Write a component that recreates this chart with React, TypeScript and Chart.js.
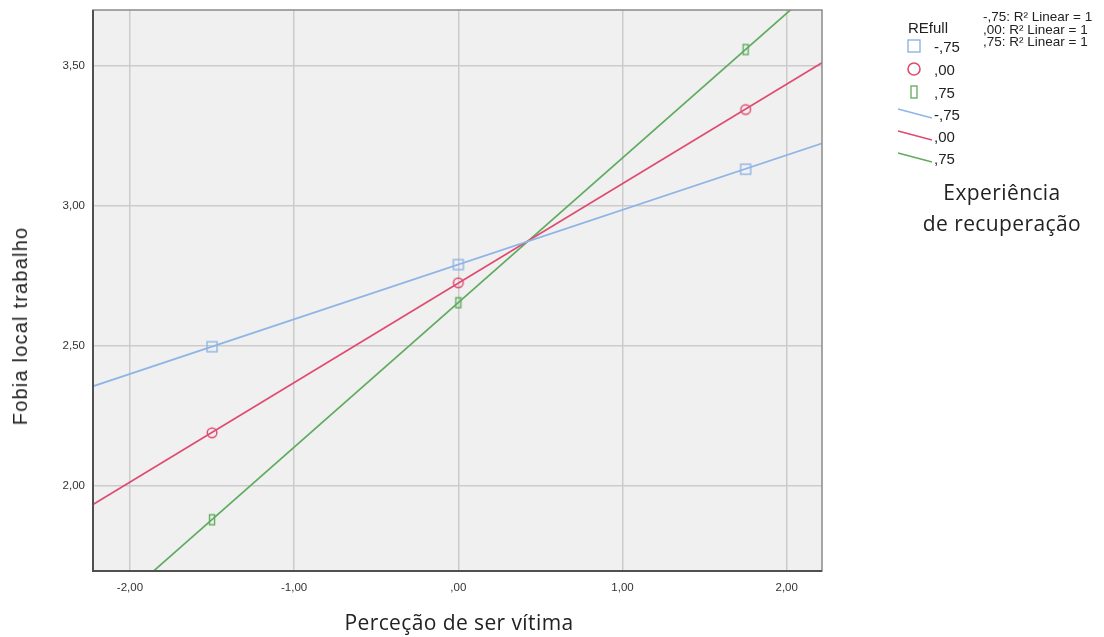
import React, { useEffect, useRef } from "react";
import { Chart, registerables } from "chart.js";

Chart.register(...registerables);

// ---- data ----
const groupLabels = ["-,75", ",00", ",75"];
const pointX = [-1.5, 0, 1.75];
const blueY = [2.497, 2.79, 3.13];
const redY = [2.19, 2.725, 3.343];
const greenY = [1.88, 2.654, 3.557];
// fit line endpoints
const lineX = [-2.23, 2.23];
const blueLine = [2.355, 3.225];
const redLine = [1.932, 3.515];
const greenLine = [1.504, 3.805];
const xTicks = [-2, -1, 0, 1, 2];
const yTicks = [2.0, 2.5, 3.0, 3.5];
const rLegend = ["-,75: R² Linear = 1", ",00: R² Linear = 1", ",75: R² Linear = 1"];

const BLUE = "#8fb4e6";
const RED = "#e04a70";
const GREEN = "#5fab5f";

function fmt(v: number): string {
  let s = Math.abs(v).toFixed(2).replace(".", ",");
  if (s.startsWith("0,")) s = s.slice(1);
  return (v < 0 ? "-" : "") + s;
}

function marker(kind: string, color: string): HTMLCanvasElement {
  const c = document.createElement("canvas");
  c.width = 14;
  c.height = 14;
  const g = c.getContext("2d")!;
  g.strokeStyle = color;
  g.lineWidth = 1.4;
  if (kind === "square") g.strokeRect(2, 2, 10, 10);
  else if (kind === "circle") {
    g.beginPath();
    g.arc(7, 7, 4.8, 0, Math.PI * 2);
    g.stroke();
  } else g.strokeRect(4.5, 2, 5, 10);
  return c;
}

export default function App() {
  const ref = useRef<HTMLCanvasElement>(null);
  useEffect(() => {
    document.body.style.margin = "0";
    const bgPlugin = {
      id: "bg",
      beforeDraw(chart: any) {
        const { ctx, chartArea: a } = chart;
        ctx.save();
        ctx.fillStyle = "#f0f0f0";
        ctx.fillRect(a.left, a.top, a.right - a.left, a.bottom - a.top);
        ctx.restore();
      },
      afterDraw(chart: any) {
        const { ctx, chartArea: a } = chart;
        ctx.save();
        ctx.strokeStyle = "#8a8a8a";
        ctx.lineWidth = 1.5;
        ctx.strokeRect(a.left, a.top, a.right - a.left, a.bottom - a.top);
        ctx.strokeStyle = "#505050";
        ctx.lineWidth = 2;
        ctx.beginPath();
        ctx.moveTo(a.left, a.top);
        ctx.lineTo(a.left, a.bottom);
        ctx.lineTo(a.right, a.bottom);
        ctx.stroke();
        ctx.restore();
      },
    };
    const mk = (data: number[], xs: number[]) => data.map((y, i) => ({ x: xs[i], y }));
    const chart = new Chart(ref.current!, {
      type: "scatter",
      data: {
        datasets: [
          { data: mk(blueLine, lineX), showLine: true, borderColor: BLUE, borderWidth: 1.7, pointRadius: 0 },
          { data: mk(redLine, lineX), showLine: true, borderColor: RED, borderWidth: 1.7, pointRadius: 0 },
          { data: mk(greenLine, lineX), showLine: true, borderColor: GREEN, borderWidth: 1.7, pointRadius: 0 },
          { data: mk(blueY, pointX), pointStyle: marker("square", BLUE) as any, pointRadius: 7 },
          { data: mk(redY, pointX), pointStyle: marker("circle", RED) as any, pointRadius: 7 },
          { data: mk(greenY, pointX), pointStyle: marker("rect", GREEN) as any, pointRadius: 7 },
        ] as any,
      },
      options: {
        animation: false,
        responsive: false,
        layout: { padding: { left: 0, top: 10, right: 282, bottom: 0 } },
        plugins: { legend: { display: false }, tooltip: { enabled: false } },
        scales: {
          x: {
            type: "linear",
            min: -2.225,
            max: 2.215,
            afterBuildTicks: (s: any) => { s.ticks = xTicks.map((v) => ({ value: v })); },
            afterFit: (s: any) => { s.height = 66; s.paddingLeft = 0; s.paddingRight = 0; s.paddingTop = 0; s.paddingBottom = 0; },
            grid: { color: "#cbcbcb", lineWidth: 1.5, drawTicks: false },
            border: { display: false },
            ticks: { padding: 10, color: "#333", font: { family: "Liberation Sans", size: 11.5 }, callback: (v: any) => fmt(Number(v)) },
          },
          y: {
            type: "linear",
            min: 1.697,
            max: 3.698,
            afterBuildTicks: (s: any) => { s.ticks = yTicks.map((v) => ({ value: v })); },
            afterFit: (s: any) => { s.width = 93; s.paddingLeft = 0; s.paddingRight = 0; s.paddingTop = 0; s.paddingBottom = 0; },
            grid: { color: "#cbcbcb", lineWidth: 1.5, drawTicks: false },
            border: { display: false },
            ticks: { padding: 8, color: "#333", font: { family: "Liberation Sans", size: 11.5 }, callback: (v: any) => fmt(Number(v)) },
          },
        },
      } as any,
      plugins: [bgPlugin],
    });
    return () => chart.destroy();
  }, []);

  const txt: React.CSSProperties = { position: "absolute", fontFamily: "Liberation Sans, Arial, sans-serif", color: "#222", whiteSpace: "nowrap", lineHeight: 1 };
  const lg = { ...txt, fontSize: 15 };
  const big: React.CSSProperties = { ...txt, fontFamily: "Open Sans", fontSize: 21, letterSpacing: 0.4 };
  const rows = [46, 69, 92, 114, 136, 158];
  return (
    <div style={{ position: "relative", width: 1104, height: 637, background: "#fff" }}>
      <canvas ref={ref} width={1104} height={637} style={{ position: "absolute", left: 0, top: 0 }} />
      <div style={{ ...big, left: 459, top: 612, transform: "translateX(-50%)" }}>Perceção de ser vítima</div>
      <div style={{ ...txt, fontSize: 20, letterSpacing: 1.2, left: 20, top: 326, transform: "translate(-50%,-50%) rotate(-90deg)" }}>Fobia local trabalho</div>
      <div style={{ ...lg, left: 908, top: 20 }}>REfull</div>
      <svg width={40} height={180} style={{ position: "absolute", left: 895, top: 0 }}>
        <rect x={13} y={rows[0] - 6} width={12} height={12} fill="none" stroke={BLUE} strokeWidth={1.4} />
        <circle cx={19} cy={rows[1]} r={6} fill="none" stroke={RED} strokeWidth={1.6} />
        <rect x={16} y={rows[2] - 6} width={6} height={12} fill="none" stroke={GREEN} strokeWidth={1.3} />
        <line x1={3} y1={rows[3] - 5} x2={37} y2={rows[3] + 4} stroke={BLUE} strokeWidth={1.4} />
        <line x1={3} y1={rows[4] - 5} x2={37} y2={rows[4] + 4} stroke={RED} strokeWidth={1.4} />
        <line x1={3} y1={rows[5] - 5} x2={37} y2={rows[5] + 4} stroke={GREEN} strokeWidth={1.4} />
      </svg>
      {rows.map((y, i) => (
        <div key={i} style={{ ...lg, left: 934, top: y - 7 }}>{groupLabels[i % 3]}</div>
      ))}
      {rLegend.map((t, i) => (
        <div key={t} style={{ ...txt, fontSize: 13.5, left: 983, top: 10 + i * 12.5 }}>{t}</div>
      ))}
      <div style={{ ...big, left: 1002, top: 182, transform: "translateX(-50%)" }}>Experiência</div>
      <div style={{ ...big, left: 1002, top: 213, transform: "translateX(-50%)" }}>de recuperação</div>
    </div>
  );
}
